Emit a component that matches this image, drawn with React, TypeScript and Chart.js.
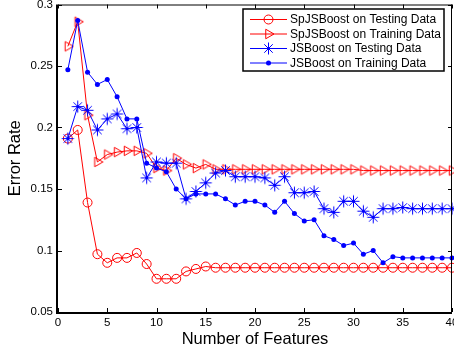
import React, { useEffect, useRef } from 'react';
import { Chart, registerables } from 'chart.js';

Chart.register(...registerables);

// ---------- data ----------
const featureCounts = [
  1, 2, 3, 4, 5, 6, 7, 8, 9, 10,
  11, 12, 13, 14, 15, 16, 17, 18, 19, 20,
  21, 22, 23, 24, 25, 26, 27, 28, 29, 30,
  31, 32, 33, 34, 35, 36, 37, 38, 39, 40,
];

const spjsTesting = [
  0.191, 0.198, 0.139, 0.097, 0.090, 0.094, 0.094, 0.098, 0.089, 0.077,
  0.077, 0.077, 0.083, 0.085, 0.087, 0.086, 0.086, 0.086, 0.086, 0.086,
  0.086, 0.086, 0.086, 0.086, 0.086, 0.086, 0.086, 0.086, 0.086, 0.086,
  0.086, 0.086, 0.086, 0.086, 0.086, 0.086, 0.086, 0.086, 0.086, 0.086,
];

const spjsTraining = [
  0.266, 0.286, 0.210, 0.172, 0.178, 0.180, 0.181, 0.181, 0.179, 0.167,
  0.165, 0.175, 0.170, 0.167, 0.170, 0.166, 0.166, 0.166, 0.166, 0.166,
  0.166, 0.166, 0.166, 0.166, 0.166, 0.166, 0.166, 0.166, 0.166, 0.166,
  0.165, 0.165, 0.165, 0.165, 0.165, 0.165, 0.165, 0.165, 0.165, 0.165,
];

const jsTesting = [
  0.191, 0.217, 0.214, 0.198, 0.207, 0.211, 0.199, 0.200, 0.159, 0.172,
  0.171, 0.171, 0.142, 0.148, 0.155, 0.163, 0.165, 0.160, 0.160, 0.160,
  0.159, 0.153, 0.160, 0.147, 0.147, 0.148, 0.134, 0.131, 0.140, 0.140,
  0.132, 0.127, 0.134, 0.134, 0.135, 0.134, 0.134, 0.134, 0.134, 0.134,
];

const jsTraining = [
  0.247, 0.287, 0.245, 0.235, 0.239, 0.225, 0.207, 0.207, 0.171, 0.167,
  0.164, 0.150, 0.142, 0.146, 0.146, 0.146, 0.142, 0.137, 0.140, 0.140,
  0.137, 0.131, 0.140, 0.130, 0.124, 0.125, 0.112, 0.109, 0.104, 0.106,
  0.097, 0.100, 0.090, 0.095, 0.094, 0.094, 0.094, 0.094, 0.094, 0.094,
];

const seriesNames = [
  'SpJSBoost on Testing Data',
  'SpJSBoost on Training Data',
  'JSBoost on Testing Data',
  'JSBoost on Training Data',
];

const xTickValues = [0, 5, 10, 15, 20, 25, 30, 35, 40];
const xTickLabels = ['0', '5', '10', '15', '20', '25', '30', '35', '40'];
const yTickValues = [0.05, 0.1, 0.15, 0.2, 0.25, 0.3];
const yTickLabels = ['0.05', '0.1', '0.15', '0.2', '0.25', '0.3'];

const xTitle = 'Number of Features';
const yTitle = 'Error Rate';

// ---------- styles ----------
const FONT = "'Liberation Sans', Arial, Helvetica, sans-serif";
const RED = '#ff0000';
const BLUE = '#0000ff';

type MarkerKind = 'circle' | 'triangleRight' | 'star' | 'dot';
const markers: MarkerKind[] = ['circle', 'triangleRight', 'star', 'dot'];
const colors = [RED, RED, BLUE, BLUE];

function drawMarker(ctx: CanvasRenderingContext2D, kind: MarkerKind, cx: number, cy: number, color: string) {
  ctx.save();
  ctx.strokeStyle = color;
  ctx.fillStyle = color;
  ctx.lineWidth = 1;
  ctx.beginPath();
  if (kind === 'circle') {
    ctx.arc(cx, cy, 4.5, 0, Math.PI * 2);
    ctx.stroke();
  } else if (kind === 'triangleRight') {
    const r = 5.5;
    ctx.moveTo(cx + r, cy);
    ctx.lineTo(cx - r / 2, cy - r * 0.866);
    ctx.lineTo(cx - r / 2, cy + r * 0.866);
    ctx.closePath();
    ctx.stroke();
  } else if (kind === 'star') {
    const r = 6;
    for (let k = 0; k < 4; k++) {
      const a = (k * Math.PI) / 4;
      ctx.moveTo(cx - Math.cos(a) * r, cy - Math.sin(a) * r);
      ctx.lineTo(cx + Math.cos(a) * r, cy + Math.sin(a) * r);
    }
    ctx.stroke();
  } else {
    ctx.arc(cx, cy, 2.5, 0, Math.PI * 2);
    ctx.fill();
  }
  ctx.restore();
}

const framePlugin = {
  id: 'matlabFrame',
  afterDatasetsDraw(chart: any) {
    const { ctx, chartArea, scales } = chart;
    const { left, right, top, bottom } = chartArea;
    ctx.save();
    ctx.strokeStyle = '#000';
    ctx.lineWidth = 1;
    ctx.beginPath();
    ctx.moveTo(left, top + 0.5);
    ctx.lineTo(right, top + 0.5);
    ctx.moveTo(right - 0.5, top);
    ctx.lineTo(right - 0.5, bottom);
    const tl = 4;
    xTickValues.forEach((v) => {
      const px = Math.round(scales.x.getPixelForValue(v)) + 0.5;
      ctx.moveTo(px, bottom);
      ctx.lineTo(px, bottom - tl);
      ctx.moveTo(px, top);
      ctx.lineTo(px, top + tl);
    });
    yTickValues.forEach((v) => {
      const py = Math.round(scales.y.getPixelForValue(v)) + 0.5;
      ctx.moveTo(left, py);
      ctx.lineTo(left + tl, py);
      ctx.moveTo(right, py);
      ctx.lineTo(right - tl, py);
    });
    ctx.stroke();
    // heavier left & bottom axis
    ctx.lineWidth = 2;
    ctx.beginPath();
    ctx.moveTo(left - 1, top);
    ctx.lineTo(left - 1, bottom + 1);
    ctx.lineTo(right, bottom + 1);
    ctx.stroke();
    ctx.restore();
  },
  afterDraw(chart: any) {
    const { ctx } = chart;
    const x0 = 243, y0 = 9, x1 = 444, y1 = 71;
    ctx.save();
    ctx.fillStyle = '#fff';
    ctx.fillRect(x0, y0, x1 - x0, y1 - y0);
    ctx.strokeStyle = '#000';
    ctx.lineWidth = 1.5;
    ctx.strokeRect(x0, y0, x1 - x0, y1 - y0);
    const rows = [19.5, 34, 48.5, 63];
    seriesNames.forEach((name, i) => {
      const y = rows[i];
      ctx.strokeStyle = colors[i];
      ctx.lineWidth = 1;
      ctx.beginPath();
      ctx.moveTo(250, y);
      ctx.lineTo(287, y);
      ctx.stroke();
      drawMarker(ctx, markers[i], 268.5, y, colors[i]);
      ctx.fillStyle = '#000';
      ctx.font = `12px ${FONT}`;
      ctx.textBaseline = 'middle';
      ctx.textAlign = 'left';
      ctx.fillText(name, 290, y + 0.5);
    });
    ctx.restore();
  },
};

function toPoints(ys: number[]) {
  return ys.map((y, i) => ({ x: featureCounts[i], y }));
}

function makeTriangleRight(): HTMLCanvasElement {
  const c = document.createElement('canvas');
  c.width = 14;
  c.height = 14;
  const cx = c.getContext('2d')!;
  drawMarker(cx, 'triangleRight', 7, 7, RED);
  return c;
}

function makeStar(): HTMLCanvasElement {
  const c = document.createElement('canvas');
  c.width = 15;
  c.height = 15;
  const cx = c.getContext('2d')!;
  drawMarker(cx, 'star', 7.5, 7.5, BLUE);
  return c;
}

export default function App() {
  const canvasRef = useRef<HTMLCanvasElement | null>(null);

  useEffect(() => {
    if (!canvasRef.current) return;
    const tri = makeTriangleRight();
    const star = makeStar();
    const chart = new Chart(canvasRef.current, {
      type: 'line',
      data: {
        datasets: [
          {
            label: seriesNames[0],
            data: toPoints(spjsTesting),
            borderColor: RED,
            borderWidth: 1,
            pointStyle: 'circle',
            pointRadius: 4.5,
            pointBorderColor: RED,
            pointBackgroundColor: 'rgba(0,0,0,0)',
            pointBorderWidth: 1,
            fill: false,
            tension: 0,
            clip: false,
            order: 4,
          },
          {
            label: seriesNames[1],
            data: toPoints(spjsTraining),
            borderColor: RED,
            borderWidth: 1,
            pointStyle: tri,
            pointRadius: 5.5,
            fill: false,
            tension: 0,
            clip: false,
            order: 3,
          },
          {
            label: seriesNames[2],
            data: toPoints(jsTesting),
            borderColor: BLUE,
            borderWidth: 1,
            pointStyle: star,
            pointRadius: 6,
            fill: false,
            tension: 0,
            clip: false,
            order: 2,
          },
          {
            label: seriesNames[3],
            data: toPoints(jsTraining),
            borderColor: BLUE,
            borderWidth: 1,
            pointStyle: 'circle',
            pointRadius: 2.5,
            pointBorderColor: BLUE,
            pointBackgroundColor: BLUE,
            pointBorderWidth: 0,
            fill: false,
            tension: 0,
            clip: false,
            order: 1,
          },
        ] as any,
      },
      options: {
        animation: false,
        responsive: false,
        devicePixelRatio: 1,
        layout: { autoPadding: false, padding: { top: 4.5, right: 2, left: 0, bottom: 0 } },
        plugins: {
          legend: { display: false },
          tooltip: { enabled: false },
        },
        scales: {
          x: {
            type: 'linear',
            min: 0,
            max: 40,
            grid: { display: false, drawTicks: false },
            border: { display: false },
            afterBuildTicks: (s: any) => {
              s.ticks = xTickValues.map((v) => ({ value: v }));
            },
            afterFit: (s: any) => {
              s.height = 39;
              s.paddingLeft = 0;
              s.paddingRight = 0;
            },
            ticks: {
              autoSkip: false,
              maxRotation: 0,
              padding: 4,
              color: '#000',
              font: { family: FONT, size: 11.5 },
              callback: (_v: any, i: number) => xTickLabels[i],
            },
            title: {
              display: true,
              text: xTitle,
              color: '#000',
              font: { family: FONT, size: 16.5 },
              padding: { top: 0, bottom: 2 },
            },
          },
          y: {
            type: 'linear',
            min: 0.05,
            max: 0.3,
            grid: { display: false, drawTicks: false },
            border: { display: false },
            afterBuildTicks: (s: any) => {
              s.ticks = yTickValues.map((v) => ({ value: v }));
            },
            afterFit: (s: any) => {
              s.width = 58;
              s.paddingTop = 0;
              s.paddingBottom = 0;
            },
            ticks: {
              autoSkip: false,
              padding: 5,
              color: '#000',
              font: { family: FONT, size: 11.5 },
              callback: (_v: any, i: number) => yTickLabels[i],
            },
            title: {
              display: true,
              text: yTitle,
              color: '#000',
              font: { family: FONT, size: 16.5 },
              padding: { top: 6, bottom: 0 },
            },
          },
        },
      } as any,
      plugins: [framePlugin],
    });
    return () => chart.destroy();
  }, []);

  return (
    <div style={{ position: 'fixed', left: 0, top: 0, width: 454, height: 351, background: '#fff' }}>
      <canvas ref={canvasRef} width={454} height={351} style={{ width: 454, height: 351, display: 'block' }} />
    </div>
  );
}
